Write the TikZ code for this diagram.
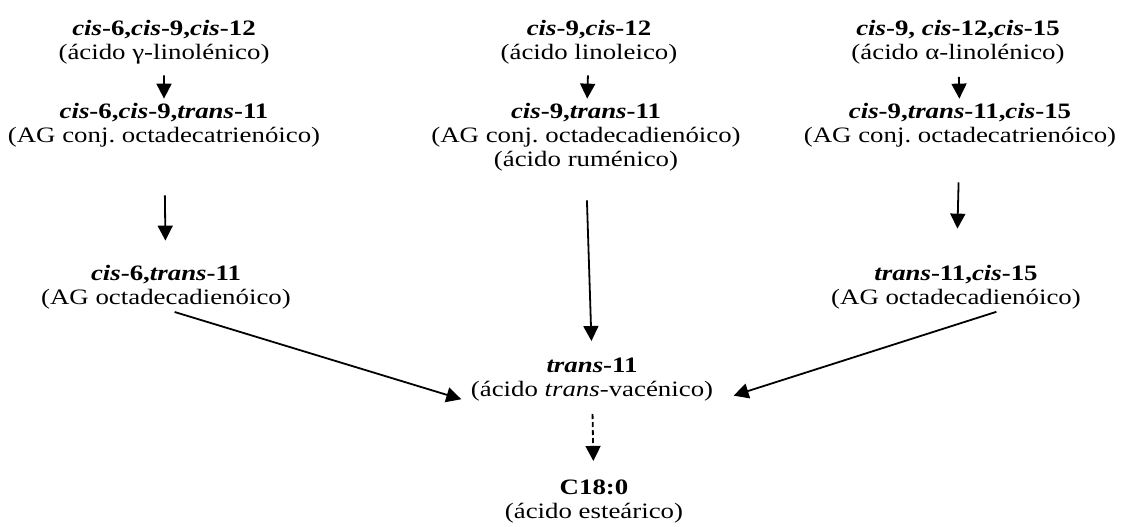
\documentclass[tikz,border=0pt]{standalone}
\usepackage{fontspec}
\setmainfont{Liberation Serif}
\usepackage{tikz}
\usetikzlibrary{arrows.meta, positioning}
\frenchspacing

\tikzset{
  compound/.style={align=center, inner sep=0pt,
    font=\fontsize{11}{12}\selectfont, xscale=1.22},
  flow/.style={-{Triangle[length=7.5pt, width=7.5pt]}, line width=0.9pt},
}

\begin{document}
\begin{tikzpicture}[x=0.5pt, y=0.5pt]
\useasboundingbox (0,0) rectangle (1126,526);

% first row: parent acids
\node[compound] (L1) at (164,484) {\textbf{\textit{cis}-6,\textit{cis}-9,\textit{cis}-12}\\(ácido γ-linolénico)};
\node[compound] (M1) at (589,484) {\textbf{\textit{cis}-9,\textit{cis}-12}\\(ácido linoleico)};
\node[compound] (R1) at (958,484) {\textbf{\textit{cis}-9, \textit{cis}-12,\textit{cis}-15}\\(ácido α-linolénico)};

% conjugated intermediates
\node[compound] (L2) at (164,401) {\textbf{\textit{cis}-6,\textit{cis}-9,\textit{trans}-11}\\(AG conj. octadecatrienóico)};
\node[compound] (M2) at (586,389) {\textbf{\textit{cis}-9,\textit{trans}-11}\\(AG conj. octadecadienóico)\\(ácido ruménico)};
\node[compound] (R2) at (960,401) {\textbf{\textit{cis}-9,\textit{trans}-11,\textit{cis}-15}\\(AG conj. octadecatrienóico)};

\node[compound] (L3) at (166,239) {\textbf{\textit{cis}-6,\textit{trans}-11}\\(AG octadecadienóico)};
\node[compound] (R3) at (956,239) {\textbf{\textit{trans}-11,\textit{cis}-15}\\(AG octadecadienóico)};

\node[compound] (M4) at (592,146) {\textbf{\textit{trans}-11}\\(ácido \textit{trans}-vacénico)};
\node[compound] (M5) at (594,24) {\textbf{C18:0}\\(ácido esteárico)};

\draw[flow, shorten <=5.5pt, shorten >=2pt] (L1) -- (L2);
\draw[flow, shorten <=5.5pt, shorten >=2pt] (M1) -- (M2);
\draw[flow, shorten <=6.25pt, shorten >=2pt] (R1) -- (R2);
\draw[flow, shorten <=24pt, shorten >=12pt] (L2) -- (L3);
\draw[flow, shorten <=17.5pt, shorten >=18pt] (R2) -- (R3);
\draw[flow, shorten <=14.5pt, shorten >=8.5pt] (M2.south) -- (M4.north);
\draw[flow, shorten <=4.5pt, shorten >=4.75pt] (L3.south) -- (M4.south west);
\draw[flow, shorten <=4pt, shorten >=10.5pt] ([xshift=24pt]R3.south) -- (M4.south east);
\draw[flow, dash pattern=on 2.5pt off 1.5pt, shorten <=6pt, shorten >=9.5pt] (M4) -- (M5);
\end{tikzpicture}
\end{document}
